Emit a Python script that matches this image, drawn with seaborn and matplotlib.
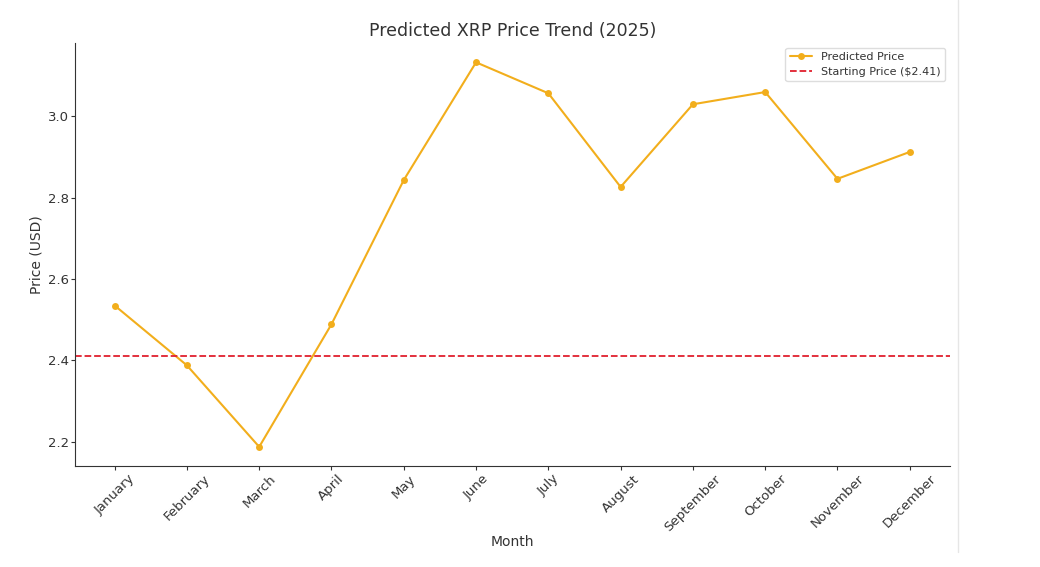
import matplotlib
matplotlib.use('Agg')
import matplotlib.pyplot as plt
from matplotlib.lines import Line2D
import seaborn as sns
import pandas as pd

months = ['January', 'February', 'March', 'April', 'May', 'June',
          'July', 'August', 'September', 'October', 'November', 'December']
predicted_price = [2.535, 2.388, 2.188, 2.489, 2.843, 3.132,
                   3.056, 2.826, 3.029, 3.059, 2.846, 2.912]
starting_price = 2.41

df = pd.DataFrame({'Month': months, 'Price': predicted_price})

sns.set_style('ticks')
plt.rcParams['font.family'] = ['DejaVu Sans']
plt.rcParams['text.color'] = '#333333'
plt.rcParams['axes.labelcolor'] = '#333333'
plt.rcParams['xtick.color'] = '#333333'
plt.rcParams['ytick.color'] = '#333333'
plt.rcParams['axes.edgecolor'] = '#333333'

fig = plt.figure(figsize=(10.4, 5.67), dpi=100)
ax = fig.add_axes([0.072, 0.178, 0.841, 0.746])

sns.lineplot(data=df, x='Month', y='Price', marker='o', color='#F2AE1C',
             markersize=5, markeredgewidth=0, linewidth=1.5,
             label='Predicted Price', sort=False, ax=ax)
ax.axhline(starting_price, color='#E0202E', linestyle='--', linewidth=1.3,
           label=f'Starting Price (${starting_price})')

ax.set_title('Predicted XRP Price Trend (2025)', fontsize=12.5, pad=5)
ax.set_xlabel('Month', fontsize=10, labelpad=1)
ax.set_ylabel('Price (USD)', fontsize=10, labelpad=3)
ax.tick_params(axis='both', labelsize=9.5, length=3, pad=1.5)
plt.setp(ax.get_xticklabels(), rotation=45)
ax.set_yticks([2.2, 2.4, 2.6, 2.8, 3.0])
ax.legend(loc='upper right', fontsize=8, framealpha=1, edgecolor='#dddddd',
          borderaxespad=0.4, labelspacing=0.45)
sns.despine(ax=ax)

fig.add_artist(Line2D([958 / 1040, 958 / 1040], [1, 1 - 552 / 567],
                      color='#e6e6e6', linewidth=1, transform=fig.transFigure))

fig.savefig('out.png', dpi=100)
